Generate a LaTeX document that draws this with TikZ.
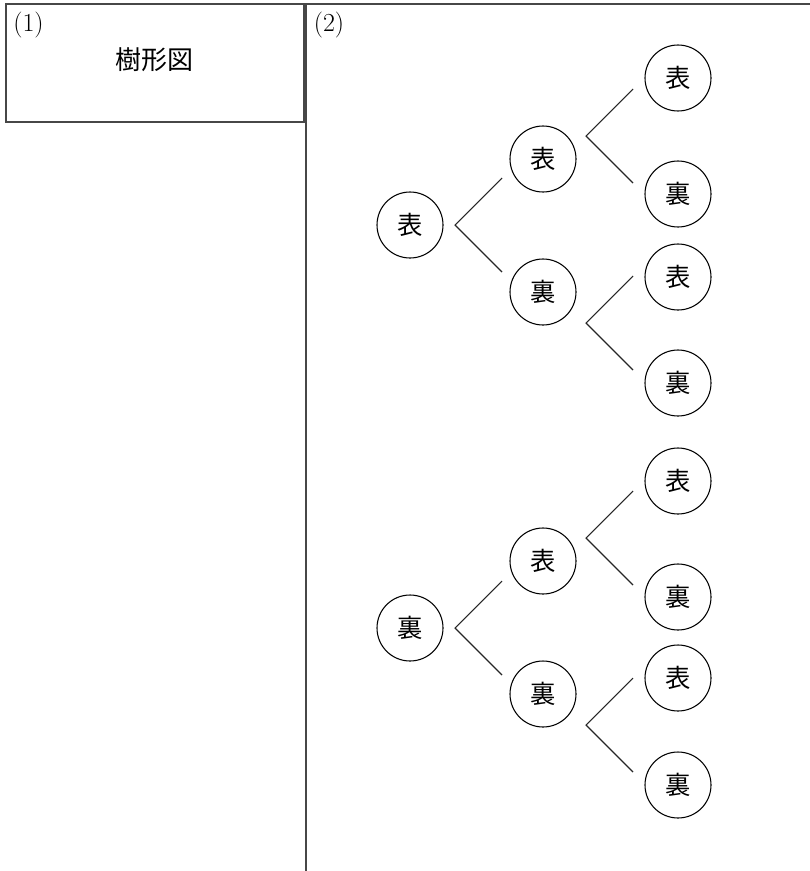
\documentclass[tikz,border=0pt]{standalone}
\usepackage{fontspec}
\newfontfamily\jfont{Noto Sans CJK JP}
\begin{document}
\begin{tikzpicture}[x=0.75pt,y=-0.75pt,
  frame/.style={line width=1.3pt,draw=black!72},
  coin/.style={circle,draw,line width=0.8pt,minimum size=49.5pt,inner sep=0pt,font=\jfont\fontsize{19}{19}\selectfont},
  branch/.style={line width=0.8pt,draw=black!85},
  lbl/.style={inner sep=0pt,font=\fontsize{19.5}{21}\selectfont},
  title/.style={inner sep=0pt,font=\jfont\fontsize{19.5}{20}\selectfont}]
\useasboundingbox (0,0) rectangle (810,871);
% panels
\draw[frame] (6,4) rectangle (304,122);
\draw[frame] (810,4) -- (306,4) -- (306,871);
\node[lbl] (n1) at (28.5,25.5) {(1)};
\node[lbl] (n2) at (329,25.5) {(2)};
\node[title] (t1) at (154.5,60) {樹形図};
% level 1
\node[coin] (A)  at (410,225) {表};
\node[coin] (B)  at (410,628) {裏};
% level 2
\node[coin] (AA) at (543,159) {表};
\node[coin] (AB) at (543,292) {裏};
\node[coin] (BA) at (543,561) {表};
\node[coin] (BB) at (543,694) {裏};
% level 3
\node[coin] (AAA) at (678,78)  {表};
\node[coin] (AAB) at (678,194) {裏};
\node[coin] (ABA) at (678,277) {表};
\node[coin] (ABB) at (678,383) {裏};
\node[coin] (BAA) at (678,481) {表};
\node[coin] (BAB) at (678,597) {裏};
\node[coin] (BBA) at (678,678) {表};
\node[coin] (BBB) at (678,785) {裏};
% branch apexes and free ends
\foreach \n/\x/\y in {A/455/225, B/455/628, AA/586/136, AB/586/323, BA/586/538, BB/586/725}{
  \coordinate (\n-o) at (\x,\y);
  \coordinate (\n-u) at (\x+47,\y-47);
  \coordinate (\n-d) at (\x+47,\y+47);
  \draw[branch] (\n-u) -- (\n-o) -- (\n-d);
}
\end{tikzpicture}
\end{document}
